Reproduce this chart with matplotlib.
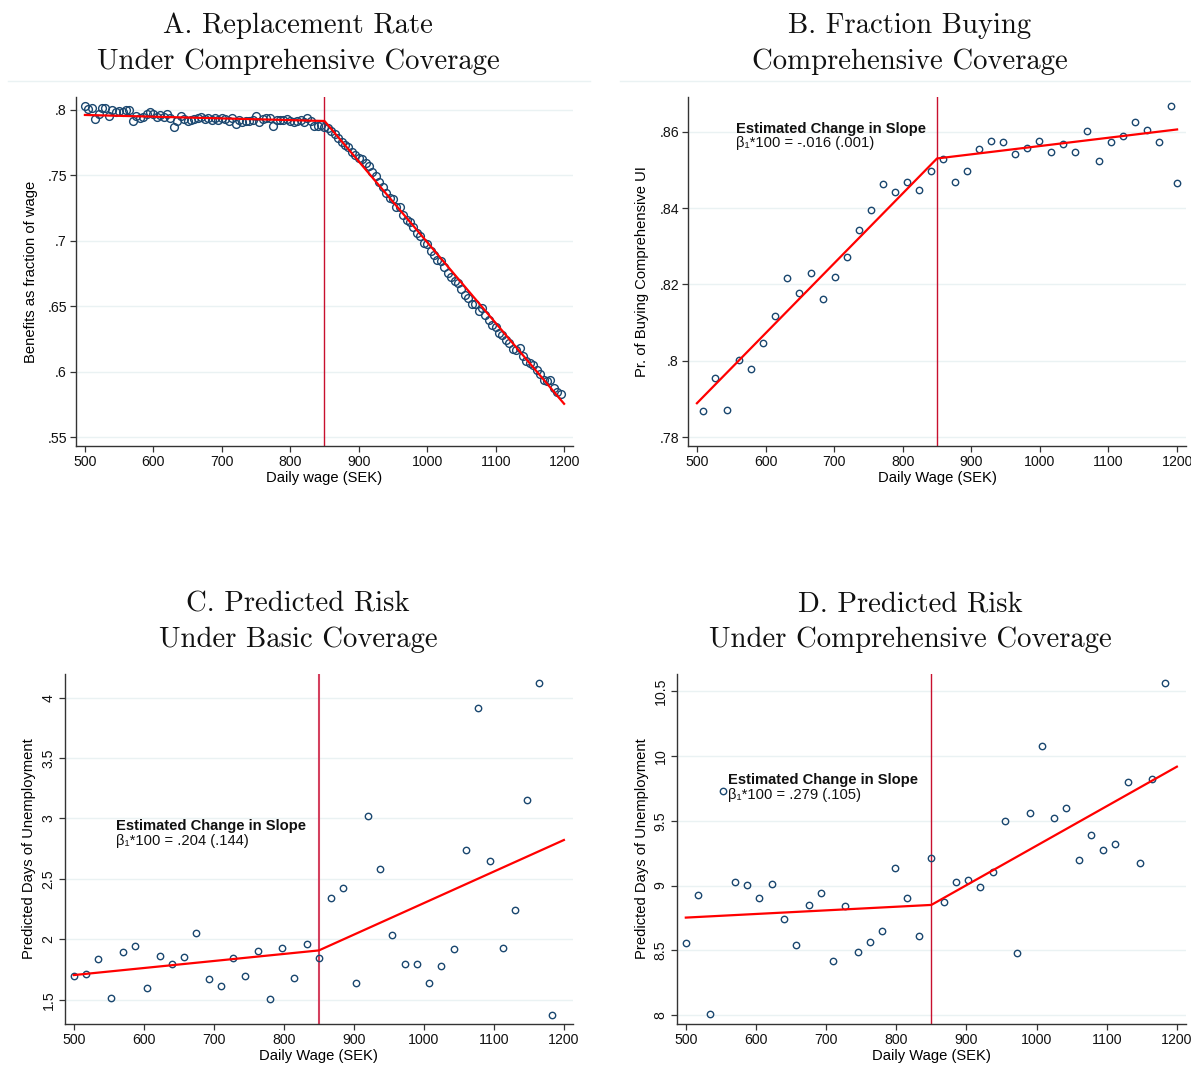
import numpy as np
import matplotlib.pyplot as plt
from matplotlib.lines import Line2D

plt.rcParams['font.family'] = ['Liberation Sans', 'DejaVu Sans']

W, H = 1191, 1076
NAVY = '#1a476f'
GRID = '#eaf2f3'
AXC = '#333333'

# ---- data ----
wage_ticks = [500, 600, 700, 800, 900, 1000, 1100, 1200]
kink = 850

# A. replacement rate, 5 SEK bins
a_wage = list(range(500, 1200, 5))
a_rate = [.8030, .8005, .8015, .7929, .7967, .8010, .8015, .7954, .8000, .7980,
          .7990, .7985, .7995, .7995, .7914, .7949, .7934, .7944, .7970, .7985,
          .7964, .7944, .7959, .7944, .7964, .7934, .7871, .7914, .7949, .7929,
          .7914, .7919, .7929, .7939, .7944, .7929, .7939, .7924, .7934, .7919,
          .7934, .7929, .7914, .7934, .7893, .7924, .7909, .7914, .7914, .7919,
          .7949, .7909, .7929, .7934, .7934, .7873, .7919, .7924, .7924, .7929,
          .7914, .7904, .7914, .7919, .7909, .7934, .7914, .7878, .7878, .7883,
          .7868,
          .7858, .7838, .7812, .7787, .7756, .7731, .7716, .7675, .7655, .7629,
          .7624, .7591, .7569, .7523, .7492, .7452, .7411, .7366, .7330, .7320,
          .7259, .7254, .7198, .7157, .7142, .7102, .7056, .7036, .6985, .6975,
          .6919, .6888, .6853, .6843, .6797, .6756, .6721, .6690, .6675, .6629,
          .6589, .6563, .6518, .6518, .6462, .6487, .6437, .6396, .6360, .6345,
          .6294, .6284, .6244, .6218, .6173, .6168, .6178, .6122, .6086, .6071,
          .6051, .6015, .5980, .5939, .5929, .5934, .5878, .5843, .5833]
a_fit_x = [500, 850, 1200]
a_fit_y = [.7960, .7914, .5756]
a_yticks = [.55, .6, .65, .7, .75, .8]
a_ylabels = ['.55', '.6', '.65', '.7', '.75', '.8']

# B. fraction buying comprehensive coverage
b_wage = [508.75, 526.25, 543.75, 561.25, 578.75, 596.25, 613.75, 631.25, 648.75, 666.25,
          683.75, 701.25, 718.75, 736.25, 753.75, 771.25, 788.75, 806.25, 823.75, 841.25,
          858.75, 876.25, 893.75, 911.25, 928.75, 946.25, 963.75, 981.25, 998.75, 1016.25,
          1033.75, 1051.25, 1068.75, 1086.25, 1103.75, 1121.25, 1138.75, 1156.25, 1173.75,
          1191.25, 1200]
b_frac = [.7869, .7954, .7870, .8002, .7979, .8046, .8118, .8218, .8178, .8229,
          .8163, .8219, .8272, .8343, .8395, .8464, .8443, .8469, .8447, .8498,
          .8529, .8469, .8496, .8554, .8575, .8572, .8543, .8558, .8575, .8547,
          .8568, .8548, .8603, .8523, .8572, .8590, .8626, .8605, .8573, .8668, .8465]
b_fit_x = [500, 850, 1200]
b_fit_y = [.7889, .8530, .8606]
b_yticks = [.78, .8, .82, .84, .86]
b_ylabels = ['.78', '.8', '.82', '.84', '.86']

# C / D. predicted risk, 17.5 SEK bins
cd_wage = [500, 517.5, 535, 552.5, 570, 587.5, 605, 622.5, 640, 657.5,
           675, 692.5, 710, 727.5, 745, 762.5, 780, 797.5, 815, 832.5,
           850, 867.5, 885, 902.5, 920, 937.5, 955, 972.5, 990, 1007.5,
           1025, 1042.5, 1060, 1077.5, 1095, 1112.5, 1130, 1147.5, 1165, 1182.5]
c_days = [1.693, 1.710, 1.837, 1.514, 1.895, 1.942, 1.594, 1.864, 1.795, 1.850,
          2.049, 1.671, 1.616, 1.845, 1.696, 1.906, 1.503, 1.925, 1.677, 1.958,
          1.845, 2.342, 2.424, 1.638, 3.023, 2.579, 2.035, 1.798, 1.795, 1.641,
          1.779, 1.917, 2.736, 3.912, 2.648, 1.925, 2.242, 3.153, 4.119, 1.370]
c_fit_x = [500, 850, 1200]
c_fit_y = [1.704, 1.908, 2.822]
c_yticks = [1.5, 2, 2.5, 3, 3.5, 4]
c_ylabels = ['1.5', '2', '2.5', '3', '3.5', '4']

d_days = [8.559, 8.929, 8.010, 9.728, 9.027, 9.004, 8.901, 9.009, 8.744, 8.541,
          8.852, 8.940, 8.415, 8.842, 8.487, 8.566, 8.646, 9.135, 8.904, 8.608,
          9.210, 8.873, 9.027, 9.045, 8.986, 9.102, 9.496, 8.481, 9.560, 10.075,
          9.522, 9.601, 9.197, 9.390, 9.274, 9.321, 9.797, 9.177, 9.823, 10.562]
d_fit_x = [500, 850, 1200]
d_fit_y = [8.752, 8.850, 9.918]
d_yticks = [8, 8.5, 9, 9.5, 10, 10.5]
d_ylabels = ['8', '8.5', '9', '9.5', '10', '10.5']


def rect(left, right, top, bottom):
    return [left / W, 1 - bottom / H, (right - left) / W, (bottom - top) / H]


def style(ax, ylim, yticks, ylabels, xlabel, ylabel, ylab_x, rot=False):
    ax.set_xlim(487, 1213)
    ax.set_ylim(ylim)
    ax.set_xticks(wage_ticks)
    ax.set_xticklabels([str(t) for t in wage_ticks])
    ax.set_yticks(yticks)
    ax.set_yticklabels(ylabels)
    for s in ['top', 'right']:
        ax.spines[s].set_visible(False)
    for s in ['left', 'bottom']:
        ax.spines[s].set_color(AXC)
        ax.spines[s].set_linewidth(1.0)
    ax.grid(axis='y', color=GRID, lw=1.0)
    ax.set_axisbelow(True)
    ax.tick_params(length=4, width=0.9, color=AXC, labelsize=10.2, pad=2.5, labelcolor='#111111')
    if rot:
        plt.setp(ax.get_yticklabels(), rotation=90, va='center')
    ax.set_xlabel(xlabel, fontsize=10.6, labelpad=1.5)
    ax.set_ylabel(ylabel, fontsize=10.6)
    ax.yaxis.set_label_coords(ylab_x, 0.5)


def draw(ax, x, y, fx, fy, ms, vcol='#c8102e', vlw=1.0):
    ax.plot(x, y, 'o', mfc='none', mec=NAVY, ms=ms, mew=1.0, zorder=3)
    ax.plot(fx, fy, color='#ff0000', lw=1.6, zorder=4)
    ax.axvline(kink, color=vcol, lw=vlw, zorder=2)


def note(ax, x, y1, y2, txt):
    ax.text(x, y1, 'Estimated Change in Slope', fontsize=10.6, fontweight='bold',
            ha='left', va='center', color='#111111')
    ax.text(x, y2, txt, fontsize=10.6, ha='left', va='center', color='#111111')


fig = plt.figure(figsize=(W / 100, H / 100), dpi=100)

# panel A
axA = fig.add_axes(rect(76, 573, 97, 446))
draw(axA, a_wage, a_rate, a_fit_x, a_fit_y, ms=5.6)
style(axA, (.5434, .8097), a_yticks, a_ylabels, 'Daily wage (SEK)',
      'Benefits as fraction of wage', -0.076)

# panel B
axB = fig.add_axes(rect(688, 1186, 97, 446))
draw(axB, b_wage, b_frac, b_fit_x, b_fit_y, ms=4.6)
style(axB, (.7777, .8691), b_yticks, b_ylabels, 'Daily Wage (SEK)',
      'Pr. of Buying Comprehensive UI', -0.078)
note(axB, 557.5, .8606, .8570, 'β₁*100 = -.016 (.001)')

# panel C
axC = fig.add_axes(rect(64.7, 573, 674, 1024))
draw(axC, cd_wage, c_days, c_fit_x, c_fit_y, ms=4.6, vcol='#d4405e', vlw=1.5)
style(axC, (1.299, 4.196), c_yticks, c_ylabels, 'Daily Wage (SEK)',
      'Predicted Days of Unemployment', -0.056, rot=True)
note(axC, 559.6, 2.938, 2.811, 'β₁*100 = .204 (.144)')

# panel D
axD = fig.add_axes(rect(676.7, 1186, 674, 1024))
draw(axD, cd_wage, d_days, d_fit_x, d_fit_y, ms=4.6)
style(axD, (7.93, 10.634), d_yticks, d_ylabels, 'Daily Wage (SEK)',
      'Predicted Days of Unemployment', -0.055, rot=True)
note(axD, 560.3, 9.815, 9.699, 'β₁*100 = .279 (.105)')

# titles
titles = [(298, 26, 'A. Replacement Rate'), (298, 62, 'Under Comprehensive Coverage'),
          (910, 26, 'B. Fraction Buying'), (910, 62, 'Comprehensive Coverage'),
          (298, 604, 'C. Predicted Risk'), (298, 640, 'Under Basic Coverage'),
          (910, 604, 'D. Predicted Risk'), (910, 640, 'Under Comprehensive Coverage')]
for x, y, t in titles:
    fig.text(x / W, 1 - y / H, t, family='cmr10', fontsize=20.7, ha='center', va='center',
             color='#111111')

# faint rules below the top titles
fig.add_artist(Line2D([8 / W, 590 / W], [1 - 81 / H] * 2, color=GRID, lw=1.0))
fig.add_artist(Line2D([620 / W, 1191 / W], [1 - 81 / H] * 2, color=GRID, lw=1.0))

fig.savefig('out.png', dpi=100, facecolor='white')
